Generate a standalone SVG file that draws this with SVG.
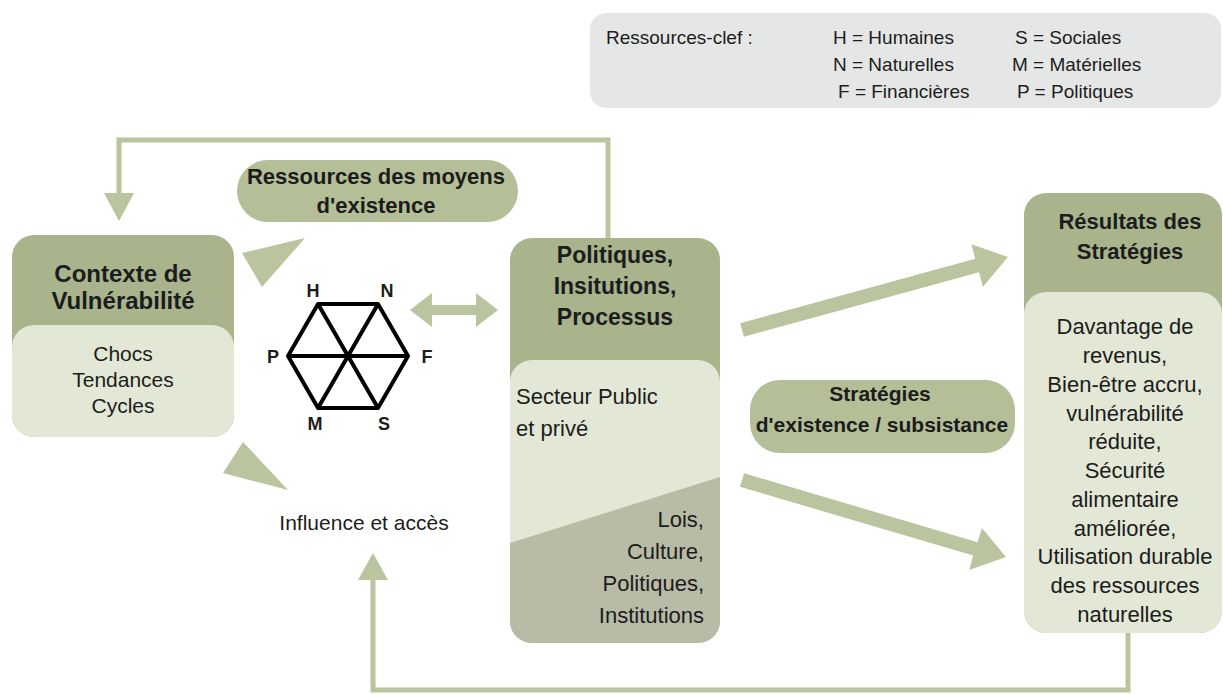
<svg xmlns="http://www.w3.org/2000/svg" width="1223" height="695" viewBox="0 0 1223 695">
<defs>
<style>
text{font-family:"Liberation Sans",Arial,sans-serif;fill:#1c1c1c}
.t{font-weight:bold;font-size:22px;text-anchor:middle}
.b{font-size:21px;text-anchor:middle}
.r{font-size:22px;text-anchor:middle}
.lg{font-size:19px}
.hx{font-weight:bold;font-size:18px;text-anchor:middle}
.hd{fill:#a9b38c}
.lt{fill:#e2e8d5}
.pill{fill:#b4be97}
.ar{fill:#bac49f}
.ln{fill:none;stroke:#bac49f;stroke-width:5}
</style>
<clipPath id="polclip"><rect x="510" y="238" width="210" height="405" rx="22"/></clipPath>
</defs>

<g id="legend">
<rect x="590" y="13" width="631" height="95" rx="16" fill="#e5e7e6"/>
<text class="lg" x="606" y="44">Ressources-clef :</text>
<text class="lg" x="833" y="44">H = Humaines</text>
<text class="lg" x="833" y="71">N = Naturelles</text>
<text class="lg" x="838" y="98">F = Financières</text>
<text class="lg" x="1015" y="44">S = Sociales</text>
<text class="lg" x="1012" y="71">M = Matérielles</text>
<text class="lg" x="1017" y="98">P = Politiques</text>
</g>

<g id="connectors">
<polyline class="ln" points="608,238 608,140 119,140 119,196"/>
<polygon class="ar" points="104,193 134,193 119,221"/>
<polyline class="ln" points="1128,633 1128,690 373,690 373,577"/>
<polygon class="ar" points="358,580 388,580 373,553"/>
<polygon class="ar" points="242,253 305,238 262,287"/>
<polygon class="ar" points="243,442 223,473 288,490"/>
<polygon class="ar" points="410,310 432,293 432,305 476,305 476,293 498,310 476,327 476,315 432,315 432,327"/>
<polygon class="ar" points="740.15,323.25 975.29,258.72 971.32,244.25 1008,257 982.96,286.69 978.99,272.22 743.85,336.75"/>
<polygon class="ar" points="744.2,473.3 977.6,542.3 981.9,527.9 1006,557 969.2,570 973.2,555.6 739.8,486.7"/>
</g>

<g id="contexte">
<rect class="hd" x="12" y="235" width="222" height="202" rx="22"/>
<rect class="lt" x="12" y="325" width="222" height="112" rx="22"/>
<text class="t" x="123" y="282" style="font-size:24px">Contexte de</text>
<text class="t" x="123" y="309" style="font-size:24px">Vulnérabilité</text>
<text class="b" x="123" y="361">Chocs</text>
<text class="b" x="123" y="387">Tendances</text>
<text class="b" x="123" y="413">Cycles</text>
</g>

<g id="ressources">
<rect class="pill" x="237" y="160" width="281" height="62" rx="31"/>
<text class="t" x="376" y="184">Ressources des moyens</text>
<text class="t" x="376" y="213">d'existence</text>
</g>

<g id="hexagone">
<g fill="none" stroke="#000" stroke-width="4" stroke-linejoin="round">
<polygon points="318,304 378,304 408,356 378,408 318,408 288,356"/>
<line x1="318" y1="304" x2="378" y2="408"/>
<line x1="378" y1="304" x2="318" y2="408"/>
<line x1="288" y1="356" x2="408" y2="356"/>
</g>
<text class="hx" x="313" y="297">H</text>
<text class="hx" x="387" y="297">N</text>
<text class="hx" x="273" y="363">P</text>
<text class="hx" x="427" y="363">F</text>
<text class="hx" x="315" y="430">M</text>
<text class="hx" x="384" y="430">S</text>
</g>

<g id="influence">
<text class="b" x="364" y="530">Influence et accès</text>
</g>

<g id="politiques">
<rect class="hd" x="510" y="238" width="210" height="405" rx="22"/>
<rect class="lt" x="510" y="360" width="210" height="283" rx="22"/>
<polygon points="510,543 720,477 720,643 510,643" fill="#b8bba5" clip-path="url(#polclip)"/>
<text class="t" x="615" y="263" style="font-size:23px">Politiques,</text>
<text class="t" x="615" y="294" style="font-size:23px">Insitutions,</text>
<text class="t" x="615" y="325" style="font-size:23px">Processus</text>
<text x="516" y="404" style="font-size:22px">Secteur Public</text>
<text x="516" y="436" style="font-size:22px">et privé</text>
<text x="704" y="527" style="font-size:22px;text-anchor:end">Lois,</text>
<text x="704" y="559" style="font-size:22px;text-anchor:end">Culture,</text>
<text x="704" y="591" style="font-size:22px;text-anchor:end">Politiques,</text>
<text x="704" y="623" style="font-size:22px;text-anchor:end">Institutions</text>
</g>

<g id="strategies">
<rect class="pill" x="750" y="380" width="265" height="73" rx="30"/>
<text class="t" x="880" y="401" style="font-size:21px">Stratégies</text>
<text class="t" x="882" y="432" style="font-size:21px">d'existence / subsistance</text>
</g>

<g id="resultats">
<rect class="hd" x="1024" y="193" width="198" height="440" rx="22"/>
<rect class="lt" x="1024" y="292" width="198" height="341" rx="22"/>
<text class="t" x="1130" y="229">Résultats des</text>
<text class="t" x="1130" y="259">Stratégies</text>
<text class="r" x="1125" y="334">Davantage de</text>
<text class="r" x="1125" y="363">revenus,</text>
<text class="r" x="1125" y="392">Bien-être accru,</text>
<text class="r" x="1125" y="421">vulnérabilité</text>
<text class="r" x="1125" y="449">réduite,</text>
<text class="r" x="1125" y="478">Sécurité</text>
<text class="r" x="1125" y="507">alimentaire</text>
<text class="r" x="1125" y="536">améliorée,</text>
<text class="r" x="1125" y="564">Utilisation durable</text>
<text class="r" x="1125" y="593">des ressources</text>
<text class="r" x="1125" y="622">naturelles</text>
</g>
</svg>
